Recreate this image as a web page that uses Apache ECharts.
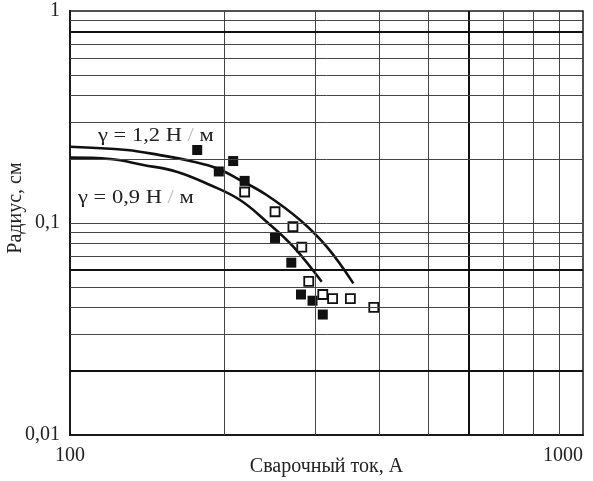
<!DOCTYPE html>
<html><head><meta charset="utf-8">
<script src="https://cdn.jsdelivr.net/npm/echarts@6/dist/echarts.min.js"></script>
<style>html,body{margin:0;padding:0;background:#fff}#c{width:593px;height:481px}</style>
</head><body><div id="c"></div>
<script>
// Filled squares (black)
const filledX = [177, 208, 195, 219, 251, 270, 282, 297, 311];
const filledY = [0.221, 0.196, 0.175, 0.158, 0.085, 0.065, 0.046, 0.043, 0.037];
// Open squares
const openX = [219, 251, 272, 283, 292, 311, 325, 352, 391];
const openY = [0.140, 0.113, 0.096, 0.077, 0.053, 0.046, 0.044, 0.044, 0.040];
// Curve gamma = 1.2 N/m
const curve12X = [100, 129, 149.7, 174, 193.2, 214.5, 241.7, 280.8, 316.5, 356.7];
const curve12Y = [0.229, 0.221, 0.209, 0.1946, 0.1811, 0.1595, 0.1355, 0.1033, 0.0773, 0.0519];
// Curve gamma = 0.9 N/m
const curve09X = [100, 119.7, 139, 161.4, 187.5, 214.5, 241.7, 272.4, 309.5];
const curve09Y = [0.2033, 0.2003, 0.1878, 0.1746, 0.1511, 0.1284, 0.1014, 0.0773, 0.0528];
// Grid lines
const gridX = [200, 300, 400, 500, 600, 700, 800, 900];
const gridY = [0.02, 0.03, 0.04, 0.05, 0.06, 0.07, 0.08, 0.09, 0.1, 0.2, 0.3, 0.4, 0.5, 0.6, 0.7, 0.8, 0.9];
const boldX = [600];
const boldY = [0.02, 0.06, 0.8];
// Texts
const xTitle = 'Сварочный ток, А';
const yTitle = 'Радиус, см';
const label12 = ['γ = 1,2 Н', '/', 'м'];
const label09 = ['γ = 0,9 Н', '/', 'м'];

const FONT = '"Liberation Serif", "DejaVu Serif", serif';
const zip = (a, b) => a.map((v, i) => [v, b[i]]);
const gl = (bold) => ({ color: bold ? '#111' : '#444', width: bold ? 2 : 1, type: 'solid' });
const richLabel = (p) => '{a|' + p[0] + '} {s|' + p[1] + '} {a|' + p[2] + '}';
const labelRich = {
  a: { fontFamily: FONT, fontSize: 18, fill: '#222', color: '#222' },
  s: { fontFamily: FONT, fontSize: 18, fill: '#bbb', color: '#bbb' }
};

const chart = echarts.init(document.getElementById('c'), null, { renderer: 'canvas' });
chart.setOption({
  animation: false,
  backgroundColor: '#fff',
  grid: { left: 70, right: 10, top: 11, bottom: 46, show: true, borderColor: '#1a1a1a', borderWidth: 1.5,
    containLabel: false, outerBoundsMode: 'none' },
  xAxis: {
    type: 'log', logBase: 10, min: 100, max: 1000,
    name: xTitle, nameLocation: 'middle', nameGap: 22, nameMoveOverlap: false,
    nameTextStyle: { fontFamily: FONT, fontSize: 20, color: '#222' },
    axisLine: { show: true, lineStyle: { color: '#1a1a1a', width: 2 } },
    axisTick: { show: false },
    splitLine: { show: false },
    axisLabel: { fontFamily: FONT, fontSize: 20, color: '#222', margin: 11, alignMaxLabel: 'right',
      formatter: v => String(Math.round(v)) }
  },
  yAxis: {
    type: 'log', logBase: 10, min: 0.01, max: 1,
    name: yTitle, nameLocation: 'middle', nameGap: 44, nameRotate: 90, nameMoveOverlap: false,
    nameTextStyle: { fontFamily: FONT, fontSize: 20, color: '#222', padding: [0, 0, 0, 30] },
    axisLine: { show: true, lineStyle: { color: '#1a1a1a', width: 2 } },
    axisTick: { show: false },
    splitLine: { show: false },
    axisLabel: { fontFamily: FONT, fontSize: 20, color: '#222', margin: 10,
      formatter: v => (v >= 1 ? '1' : String(+v.toPrecision(3)).replace('.', ',')) }
  },
  graphic: [
    { type: 'text', x: 98, y: 127, scaleX: 1.25, z: 10,
      style: { text: richLabel(label12), rich: labelRich, font: '18px ' + FONT, fill: '#222' } },
    { type: 'text', x: 78, y: 189, scaleX: 1.25, z: 10,
      style: { text: richLabel(label09), rich: labelRich, font: '18px ' + FONT, fill: '#222' } }
  ],
  series: [
    {
      type: 'line', data: [], silent: true,
      markLine: {
        silent: true, symbol: 'none', label: { show: false }, animation: false,
        data: gridX.map(v => ({ xAxis: v, lineStyle: gl(boldX.includes(v)) }))
          .concat(gridY.map(v => ({ yAxis: v, lineStyle: gl(boldY.includes(v)) })))
      }
    },
    { type: 'line', data: zip(curve12X, curve12Y), smooth: 0.4, showSymbol: false, z: 3,
      lineStyle: { color: '#111', width: 2.6 } },
    { type: 'line', data: zip(curve09X, curve09Y), smooth: 0.4, showSymbol: false, z: 3,
      lineStyle: { color: '#111', width: 2.6 } },
    { type: 'scatter', data: zip(filledX, filledY), symbol: 'rect', symbolSize: 10, z: 4,
      itemStyle: { color: '#111', borderColor: '#111', borderWidth: 0, opacity: 1 } },
    { type: 'scatter', data: zip(openX, openY), symbol: 'rect', symbolSize: 9, z: 4,
      itemStyle: { color: '#fff', borderColor: '#111', borderWidth: 1.8, opacity: 1 } }
  ]
});
</script>
</body></html>
